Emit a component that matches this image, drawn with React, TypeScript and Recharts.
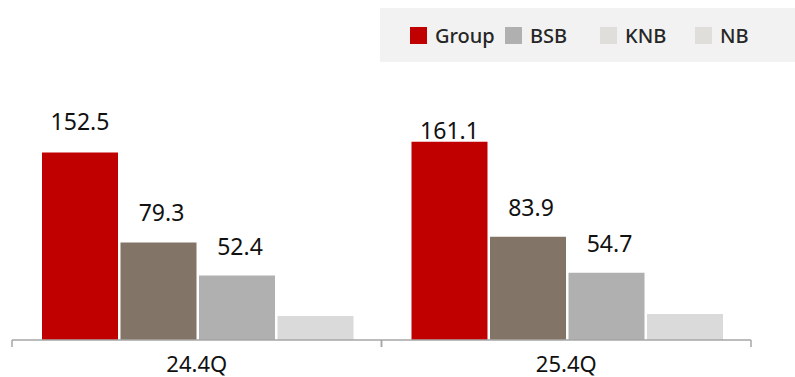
import React from 'react';
import { BarChart, Bar, XAxis, YAxis, LabelList } from 'recharts';

const categories = ['24.4Q', '25.4Q'];
const groupValues = [152.5, 161.1];
const bsbValues = [79.3, 83.9];
const knbValues = [52.4, 54.7];
const nbValues = [19.5, 21.1];

const seriesNames = ['Group', 'BSB', 'KNB', 'NB'];
const barColors = ['#c00000', '#827466', '#b0b0b0', '#dadada'];
const legendColors = ['#c00000', '#b0b0b0', '#e0dedb', '#e0dedb'];

const W = 795;
const H = 377;
const margin = { top: 94, right: 44, bottom: 0, left: 12 };
const xAxisHeight = 37;
const axisY = H - margin.bottom - xAxisHeight;
const bandWidth = (W - margin.left - margin.right) / categories.length;
const font = "'Noto Sans', 'Noto Sans CJK KR', sans-serif";

// the Group label on 25.4Q sits almost on the bar in the original
const groupLabelLift = [22, 3];

const data = categories.map((name, i) => ({
    name,
    Group: groupValues[i],
    BSB: bsbValues[i],
    KNB: knbValues[i],
    NB: nbValues[i],
}));

const makeLabel = (lift: number[] | number, dx: number) => (props: any) => {
    const { x, y, width, value, index } = props;
    const up = Array.isArray(lift) ? lift[index] : lift;
    return (
        <text
            x={Number(x) + Number(width) / 2 + dx}
            y={Number(y) - up}
            textAnchor="middle"
            fill="#111"
            fontSize={23}
            fontFamily={font}
        >
            {Number(value).toFixed(1)}
        </text>
    );
};

const AxisTick = (props: any) => {
    const { x, payload } = props;
    return (
        <g>
            <line x1={x - bandWidth / 2} x2={x - bandWidth / 2} y1={axisY} y2={axisY + 7} stroke="#a6a6a6" strokeWidth={1.5} />
            <line x1={x + bandWidth / 2} x2={x + bandWidth / 2} y1={axisY} y2={axisY + 7} stroke="#a6a6a6" strokeWidth={1.5} />
            <text x={x} y={axisY + 32} textAnchor="middle" fill="#111" fontSize={22} fontFamily={font}>
                {payload.value}
            </text>
        </g>
    );
};

function ChartLegend() {
    return (
        <div
            style={{
                position: 'absolute',
                left: 380,
                top: 8,
                width: 415,
                height: 54,
                background: '#f2f2f2',
                display: 'flex',
                alignItems: 'center',
                paddingLeft: 30,
                boxSizing: 'border-box',
                fontFamily: font,
                fontSize: 20,
                fontWeight: 500,
                color: '#262626',
            }}
        >
            {seriesNames.map((n, i) => (
                <div key={n} style={{ width: 95, display: 'flex', alignItems: 'center' }}>
                    <span style={{ width: 17, height: 17, background: legendColors[i], marginRight: 8 }} />
                    <span>{n}</span>
                </div>
            ))}
        </div>
    );
}

export default function App() {
    return (
        <div style={{ position: 'absolute', left: 0, top: 0, width: W, height: H, background: '#fff' }}>
            <BarChart width={W} height={H} data={data} margin={margin} barCategoryGap={30} barGap={2.5}>
                <XAxis
                    dataKey="name"
                    height={xAxisHeight}
                    axisLine={{ stroke: '#a6a6a6', strokeWidth: 1.5 }}
                    tickLine={false}
                    tick={<AxisTick />}
                    interval={0}
                />
                <YAxis hide domain={[0, 200]} />
                <Bar dataKey="Group" fill={barColors[0]} isAnimationActive={false}>
                    <LabelList dataKey="Group" content={makeLabel(groupLabelLift, 0)} />
                </Bar>
                <Bar dataKey="BSB" fill={barColors[1]} isAnimationActive={false}>
                    <LabelList dataKey="BSB" content={makeLabel(21, 3)} />
                </Bar>
                <Bar dataKey="KNB" fill={barColors[2]} isAnimationActive={false}>
                    <LabelList dataKey="KNB" content={makeLabel(21, 3)} />
                </Bar>
                <Bar dataKey="NB" fill={barColors[3]} isAnimationActive={false} />
            </BarChart>
            <ChartLegend />
        </div>
    );
}
